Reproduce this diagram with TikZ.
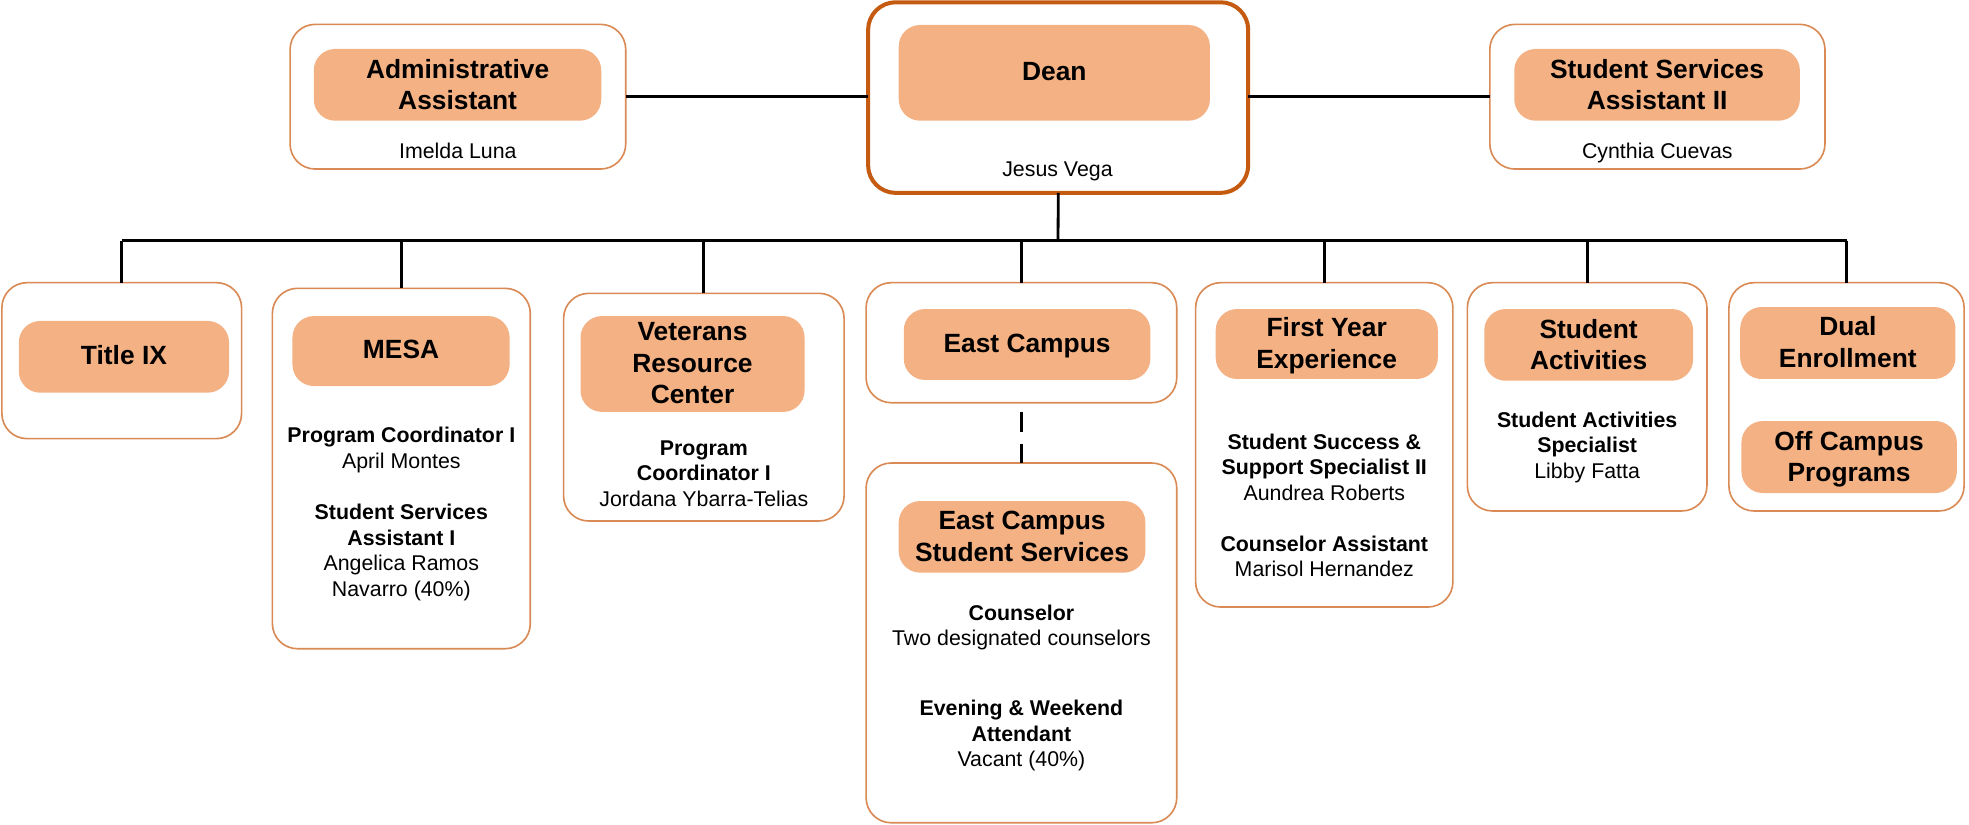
\documentclass[tikz,border=0pt]{standalone}
\usepackage{fontspec}
\setmainfont{Liberation Sans}
\usetikzlibrary{fit}
\definecolor{innerfill}{HTML}{F4B183}
\definecolor{boxline}{HTML}{D98A55}
\definecolor{deanline}{HTML}{C55A11}
\tikzset{
  outerbox/.style={draw=boxline, line width=1.3pt, rounded corners=20pt, fill=white, inner sep=0pt, outer sep=0pt},
  deanbox/.style={draw=deanline, line width=3.2pt, rounded corners=22pt, fill=white, inner sep=0pt, outer sep=0pt},
  innerbox/.style={fill=innerfill, draw=none, rounded corners=17pt, inner sep=0pt, outer sep=0pt},
  ttl/.style={font=\bfseries\fontsize{21}{25.2}\selectfont, align=center, anchor=north, inner sep=0pt},
  bodytxt/.style={font=\fontsize{17}{20.3}\selectfont, align=center, anchor=north, inner sep=0pt},
  conn/.style={draw=black, line width=2.2pt},
}
\begin{document}
\begin{tikzpicture}[x=1pt, y=-1pt]
\useasboundingbox (0,0) rectangle (1568,656.2);
% outer boxes
\node[deanbox, fit={(691.3,1.8) (994,153.6)}] (dean) {};
\node[outerbox, fit={(231,19.4) (498.3,134.6)}] (admin) {};
\node[outerbox, fit={(1186.4,19.4) (1453.3,134.6)}] (ssa) {};
\node[outerbox, fit={(1.5,225.1) (192.4,349.3)}] (titleix) {};
\node[outerbox, fit={(216.9,229.6) (422.3,516.6)}] (mesa) {};
\node[outerbox, fit={(448.8,233.6) (672.2,414.9)}] (vet) {};
\node[outerbox, fit={(689.7,225.1) (937.1,320.7)}] (east) {};
\node[outerbox, fit={(689.7,368.7) (937.1,655.2)}] (ecss) {};
\node[outerbox, fit={(952.1,225.1) (1157,483.4)}] (fye) {};
\node[outerbox, fit={(1168.5,225.1) (1359.3,406.9)}] (sa) {};
\node[outerbox, fit={(1376.8,225.1) (1564.1,406.9)}] (dual) {};
% inner filled boxes
\node[innerbox, fit={(715.7,19.9) (963.5,96.1)}] (deanin) {};
\node[innerbox, fit={(249.9,39) (478.8,96.1)}] (adminin) {};
\node[innerbox, fit={(1205.9,39) (1433.3,96.1)}] (ssain) {};
\node[innerbox, fit={(15,255.6) (182.4,312.7)}] (titleixin) {};
\node[innerbox, fit={(232.9,251.7) (405.8,307.4)}] (mesain) {};
\node[innerbox, fit={(462.3,251.7) (640.7,328)}] (vetin) {};
\node[innerbox, fit={(719.7,246.1) (916.1,302.6)}] (eastin) {};
\node[innerbox, fit={(715.7,399) (912.1,456)}] (ecssin) {};
\node[innerbox, fit={(968.1,246.1) (1145,301.8)}] (fyein) {};
\node[innerbox, fit={(1182,246.1) (1348.3,303.2)}] (sain) {};
\node[innerbox, fit={(1385.8,244.5) (1557.2,301.8)}] (dualin) {};
\node[innerbox, fit={(1386.8,335.3) (1558.3,392.6)}] (offin) {};
% titles
\node[ttl] (tdean) at (839.6,49.5) {Dean};
\node[ttl] (tadmin) at (364.4,46.8) {Administrative\\Assistant};
\node[ttl] (tssa) at (1319.6,46.8) {Student Services\\Assistant II};
\node[ttl] (ttitleix) at (98.7,275.1) {Title IX};
\node[ttl] (tmesa) at (319.4,270.6) {MESA};
\node[ttl] (tvet) at (551.5,256.5) {Veterans\\Resource\\Center};
\node[ttl] (teast) at (817.9,265.8) {East Campus};
\node[ttl] (tecss) at (813.9,406.8) {East Campus\\Student Services};
\node[ttl] (tfye) at (1056.5,252.6) {First Year\\Experience};
\node[ttl] (tsa) at (1265.1,253.9) {Student\\Activities};
\node[ttl] (tdual) at (1471.5,252) {Dual\\Enrollment};
\node[ttl] (toff) at (1472.5,343.1) {Off Campus\\Programs};
% body texts
\node[bodytxt] (bdean) at (842.1,128.7) {Jesus Vega};
\node[bodytxt] (badmin) at (364.6,113.4) {Imelda Luna};
\node[bodytxt] (bssa) at (1319.8,113.4) {Cynthia Cuevas};
\node[bodytxt] (bmesa) at (319.6,340.1) {\textbf{Program Coordinator I}\\April Montes\\[20.5pt]\textbf{Student Services}\\\textbf{Assistant I}\\Angelica Ramos\\Navarro (40\%)};
\node[bodytxt] (bvet) at (560.5,350.7) {\textbf{Program}\\\textbf{Coordinator I}\\Jordana Ybarra-Telias};
\node[bodytxt] (becss) at (813.4,481.3) {\textbf{Counselor}\\Two designated counselors\\[35.4pt]\textbf{Evening \& Weekend}\\\textbf{Attendant}\\Vacant (40\%)};
\node[bodytxt] (bfye) at (1054.6,345.3) {\textbf{Student Success \&}\\\textbf{Support Specialist II}\\Aundrea Roberts\\[20.3pt]\textbf{Counselor Assistant}\\Marisol Hernandez};
\node[bodytxt] (bsa) at (1263.9,327.8) {\textbf{Student Activities}\\\textbf{Specialist}\\Libby Fatta};
% connectors
\coordinate (bus) at (842.6,191.7);
\draw[conn] (admin.east) -- (admin.east -| dean.west);
\draw[conn] (ssa.west -| dean.east) -- (ssa.west);
\draw[conn] (dean.south) -- (bus);
\draw[conn] (titleix.north |- bus) -- (dual.north |- bus);
\draw[conn] (titleix.north |- bus) -- (titleix.north);
\draw[conn] (mesa.north |- bus) -- (mesa.north);
\draw[conn] (vet.north |- bus) -- (vet.north);
\draw[conn] (east.north |- bus) -- (east.north);
\draw[conn] (fye.north |- bus) -- (fye.north);
\draw[conn] (sa.north |- bus) -- (sa.north);
\draw[conn] (dual.north |- bus) -- (dual.north);
\draw[conn, dash pattern=on 16pt off 9.5pt, dash phase=18.5pt] (east.south) -- (ecss.north);
\end{tikzpicture}
\end{document}
